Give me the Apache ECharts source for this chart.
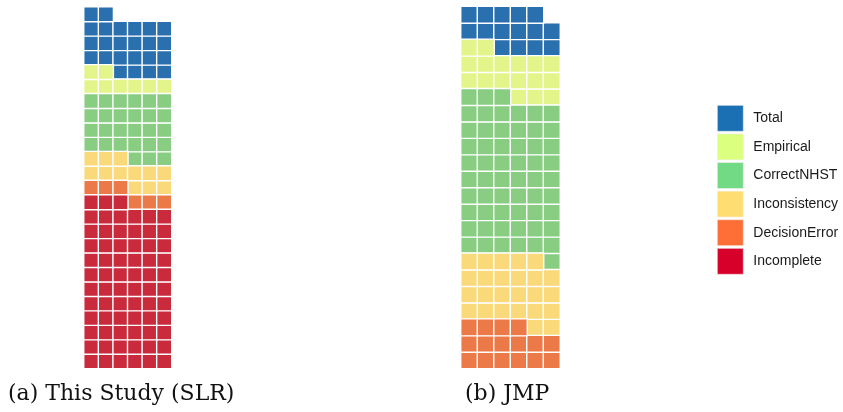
<!DOCTYPE html>
<html>
<head>
<meta charset="utf-8">
<script src="https://cdn.jsdelivr.net/npm/echarts@6/dist/echarts.min.js"></script>
<style>html,body{margin:0;padding:0;background:#fff;}#c{width:843px;height:412px;}</style>
</head>
<body>
<div id="c"></div>
<script>
// Categories (fill order: stacked from bottom-left upward, last category first)
const categories = ['Total', 'Empirical', 'CorrectNHST', 'Inconsistency', 'DecisionError', 'Incomplete'];
// Counts per category (one square each)
const slrCounts = [24, 8, 27, 12, 6, 69];
const jmpCounts = [15, 17, 58, 25, 16, 0];
const captions = ['(a) This Study (SLR)', '(b) JMP'];
const nCols = 6;

const legendColors = ['#1a70b3', '#dbff7f', '#72d985', '#fedd73', '#fe6e37', '#d7002b'];
const cellColors = ['#2a6fae', '#e2f48a', '#89cd82', '#fad97a', '#ec7a48', '#c92a3c'];

function waffle(counts) {
  const total = counts.reduce((a, b) => a + b, 0);
  const nRows = Math.ceil(total / nCols);
  const perCat = categories.map(() => []);
  let idx = 0;
  for (let c = categories.length - 1; c >= 0; c--) {
    for (let k = 0; k < counts[c]; k++) {
      perCat[c].push([idx % nCols, Math.floor(idx / nCols), 1]);
      idx++;
    }
  }
  return { nRows, perCat };
}

const panels = [waffle(slrCounts), waffle(jmpCounts)];
const grids = [
  { left: 84, top: 7, width: 87.5, height: 361.5 },
  { left: 461, top: 6.5, width: 99, height: 362 }
];

const xAxes = [], yAxes = [], series = [];
panels.forEach((p, gi) => {
  xAxes.push({ type: 'category', gridIndex: gi, data: [...Array(nCols).keys()], show: false });
  yAxes.push({ type: 'category', gridIndex: gi, data: [...Array(p.nRows).keys()], show: false });
  categories.forEach((name, ci) => {
    series.push({
      type: 'heatmap', name, xAxisIndex: gi, yAxisIndex: gi,
      data: p.perCat[ci],
      itemStyle: { color: cellColors[ci], borderColor: '#ffffff', borderWidth: 1.4 },
      emphasis: { disabled: true },
      silent: true,
      animation: false
    });
  });
});

const captionStyle = { fontFamily: 'DejaVu Serif, Liberation Serif, serif', fontWeight: 'normal', fontSize: 22, color: '#111' };

const chart = echarts.init(document.getElementById('c'), null, { renderer: 'canvas' });
chart.setOption({
  animation: false,
  backgroundColor: '#ffffff',
  grid: grids,
  xAxis: xAxes,
  yAxis: yAxes,
  legend: {
    orient: 'vertical', left: 717, top: 105, padding: 0,
    itemWidth: 26, itemHeight: 26, itemGap: 2,
    icon: 'rect', selectedMode: false,
    data: categories.map((n, i) => ({ name: n, itemStyle: { color: legendColors[i], borderColor: '#f2f2f2', borderWidth: 0.6 } })),
    textStyle: { fontFamily: 'Liberation Sans, Arial, sans-serif', fontSize: 14, color: '#1a1a1a', padding: [0, 0, 0, 5] }
  },
  title: [
    { text: captions[0], left: 3, top: 378, textStyle: captionStyle },
    { text: captions[1], left: 460, top: 378, textStyle: captionStyle }
  ],
  series
});
</script>
</body>
</html>
